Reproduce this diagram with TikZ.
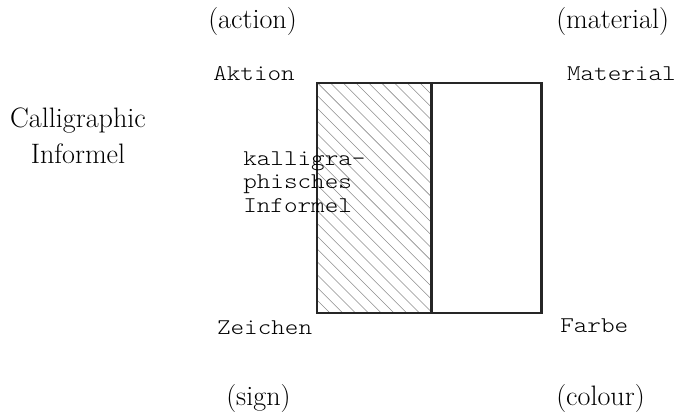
\documentclass[tikz,border=0pt]{standalone}
\usepackage{fontspec}
\setmonofont{Latin Modern Mono Light}[FakeStretch=1.15]
\begin{document}
\begin{tikzpicture}[
	typed/.style={font=\ttfamily\fontsize{16}{16.4}\selectfont,inner sep=0pt,anchor=base west,align=left},
	gloss/.style={font=\fontsize{20}{25.6}\selectfont,inner sep=0pt,anchor=base west},
	hatch/.style={black!45,line width=0.4pt},
	frame/.style={black!85,line width=1.8pt}]
	\useasboundingbox (0,0) rectangle (16.875,10.35);
	% hatched left half
	\begin{scope}
		\clip (7.93,2.525) rectangle (10.79,8.28);
		\foreach \k in {0,...,27}
			\draw[hatch] ({2.175+0.32*\k},8.28) -- ({7.93+0.32*\k},2.525);
	\end{scope}
	\draw[frame] (7.93,2.525) rectangle (13.54,8.28);
	\draw[frame] (10.79,2.525) -- (10.79,8.28);
	% corner labels
	\node[typed] (aktion) at (5.325,8.35) {Aktion};
	\node[typed] (material) at (14.17,8.35) {Material};
	\node[typed] (zeichen) at (5.42,2.0) {Zeichen};
	\node[typed] (farbe) at (14.0,2.05) {Farbe};
	\node[typed] (kalli) at (6.075,5.05) {kalligra-\\phisches\\Informel};
	% translations
	\node[gloss] (action) at (5.2,9.65) {(action)};
	\node[gloss] (materialE) at (13.9,9.65) {(material)};
	\node[gloss] (sign) at (5.65,0.225) {(sign)};
	\node[gloss] (colour) at (13.9,0.225) {(colour)};
	\node[gloss,anchor=base,align=center] (calli) at (1.95,6.275) {Calligraphic\\Informel};
\end{tikzpicture}
\end{document}
